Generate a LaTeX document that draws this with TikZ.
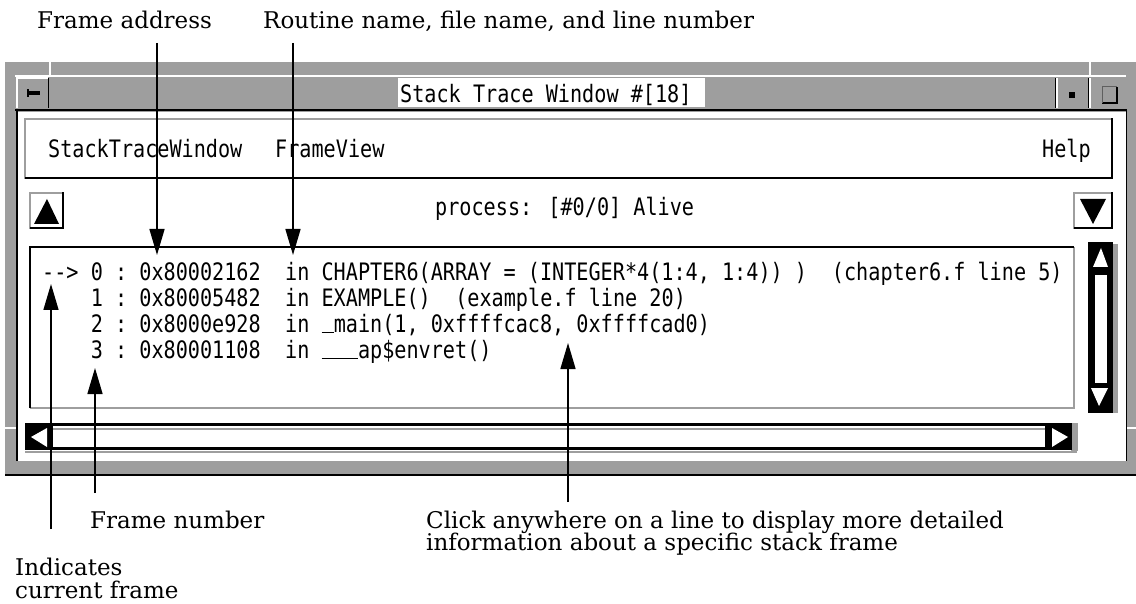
\documentclass[tikz,border=0pt]{standalone}
\usepackage{fontspec}
\usetikzlibrary{arrows.meta}
\newfontfamily\xfont[FakeStretch=0.84]{DejaVu Sans Mono}
\newfontfamily\notefont{DejaVu Serif}
\definecolor{stip}{gray}{0.62}
% underscore sitting on the baseline, one character cell wide
\newcommand{\us}{\makebox[\fontcharwd\font"5F][l]{\rule{\fontcharwd\font"5F}{1.5pt}}}

\begin{document}
\begin{tikzpicture}[x=1pt,y=-1pt,
  xtext/.style={font={\xfont\fontsize{24}{24}\selectfont}, inner sep=0pt, anchor=base west},
  note/.style={font={\notefont\fontsize{23}{23}\selectfont}, inner sep=0pt, anchor=base west},
  pointer/.style={line width=1.5pt, -{Triangle[length=26pt,width=15pt]}},
  raisedtop/.style={stip, line width=2pt},
  shadow/.style={black, line width=2.5pt},
  hole/.style={white, line width=1.4pt}]
\useasboundingbox (0,0) rectangle (1136,604);

% ---------- window frame ----------
\fill[stip] (5,62) rectangle (1136,474);
\draw[line width=2.5pt] (5,475) -- (1136,475);
\fill[white] (17,112) rectangle (1126,461);
\draw[line width=1.5pt] (17,461) -- (17,111) (1126.5,111) -- (1126.5,461);
% resize-corner notches in the border
\draw[hole] (50,62) -- (50,76) (1090,62) -- (1090,76)
  (5,428) -- (16,428) (1127,428) -- (1136,428);

% ---------- title bar ----------
\fill[stip] (15,77) rectangle (1126,108);
\draw[hole] (15,76) -- (1126,76);
\draw[hole] (17,108) -- (17,78) -- (48,78);
\draw[line width=1.4pt] (48.5,78) -- (48.5,108);
\fill[black] (27,91) rectangle (40,95);
\fill[black] (27,89) rectangle (29,97);
\fill[white] (398,78) rectangle (705,107);
\node[xtext] (title) at (400,103) {Stack Trace Window \#[18]};
\draw[hole] (1057,78) -- (1057,108) (1090,78) -- (1090,108);
\draw[line width=1.2pt] (1055.5,78) -- (1055.5,108) (1088.5,78) -- (1088.5,108);
\fill[black] (1069,92) rectangle (1075,98);
\draw[line width=1.5pt] (1102,103) -- (1117,103) -- (1117,87);
\draw[line width=1pt, stip!60!black] (1102,103) -- (1102,87) -- (1117,87);
\draw[line width=2.5pt] (15,110) -- (1127,110);

% ---------- menu bar ----------
\draw[raisedtop] (25,179) -- (25,119) -- (1112,119);
\draw[shadow] (25,178) -- (1112,178) -- (1112,118);
\node[xtext] (mStack) at (48,158) {StackTraceWindow};
\node[xtext] (mFrame) at (275,158) {FrameView};
\node[xtext] (mHelp) at (1042,158) {Help};

% ---------- process line with its buttons ----------
\draw[raisedtop] (30,229) -- (30,193) -- (63,193);
\draw[shadow] (30,228) -- (63,228) -- (63,192);
\fill[black] (47,199) -- (34,224) -- (59,224) -- cycle;
\draw[raisedtop] (1074,229) -- (1074,193) -- (1112,193);
\draw[shadow] (1074,228) -- (1112,228) -- (1112,192);
\fill[black] (1093,224) -- (1080,199) -- (1106,199) -- cycle;
\node[xtext] (proc) at (435,216) {process: [\#0/0] Alive};

% ---------- stack list ----------
\draw[stip, line width=2pt] (30,408) -- (1074,408) -- (1074,247);
\draw[line width=2.5pt] (30,408) -- (30,247) -- (1074,247);
\node[xtext] (r0a) at (42,281) {-{}->};
\node[xtext] (r0b) at ({42+4*12.15},281) {0};
\node[xtext] (r0c) at ({42+6*12.15},281) {:};
\node[xtext] (r0d) at ({42+8*12.15},281) {0x80002162};
\node[xtext] (r0e) at ({42+20*12.15},281) {in CHAPTER6(ARRAY = (INTEGER*4(1:4, 1:4)) )};
\node[xtext] (r0f) at ({42+65*12.15},281) {(chapter6.f line 5)};
\node[xtext] (r1b) at ({42+4*12.15},307) {1};
\node[xtext] (r1c) at ({42+6*12.15},307) {:};
\node[xtext] (r1d) at ({42+8*12.15},307) {0x80005482};
\node[xtext] (r1e) at ({42+20*12.15},307) {in EXAMPLE()};
\node[xtext] (r1f) at ({42+34*12.15},307) {(example.f line 20)};
\node[xtext] (r2b) at ({42+4*12.15},333) {2};
\node[xtext] (r2c) at ({42+6*12.15},333) {:};
\node[xtext] (r2d) at ({42+8*12.15},333) {0x8000e928};
\node[xtext] (r2e) at ({42+20*12.15},333) {in \us main(1, 0xffffcac8, 0xffffcad0)};
\node[xtext] (r3b) at ({42+4*12.15},359) {3};
\node[xtext] (r3c) at ({42+6*12.15},359) {:};
\node[xtext] (r3d) at ({42+8*12.15},359) {0x80001108};
\node[xtext] (r3e) at ({42+20*12.15},359) {in \us\us\us ap\$envret()};

% ---------- vertical scrollbar ----------
\fill[stip] (1112,244) rectangle (1118,413);
\fill[black] (1088,242) rectangle (1113,413);
\fill[white] (1095,275) rectangle (1107,383);
\fill[white] (1101,248) -- (1093,267) -- (1108,267) -- cycle;
\fill[white] (1099,406) -- (1091,388) -- (1108,388) -- cycle;

% ---------- horizontal scrollbar ----------
\draw[stip, line width=2pt] (25,429) -- (1077,429) (25,452) -- (1077,452);
\draw[line width=3pt] (25,424.5) -- (1077,424.5) (25,448) -- (1077,448);
\fill[black] (25,423) rectangle (53,450);
\fill[white] (31,437) -- (47,428) -- (47,447) -- cycle;
\fill[stip] (1071,423) rectangle (1078,451);
\fill[black] (1045,423) rectangle (1072,450);
\fill[white] (1068,437) -- (1052,428) -- (1052,447) -- cycle;

% ---------- call-outs ----------
\node[note] (lAddr) at (37,29) {Frame address};
\node[note] (lRout) at (263,29) {Routine name, file name, and line number};
\node[note] (lNum) at (90,528) {Frame number};
\node[note] (lCur1) at (15,575) {Indicates};
\node[note] (lCur2) at (15,598) {current frame};
\node[note] (lClick1) at (426,528) {Click anywhere on a line to display more detailed};
\node[note] (lClick2) at (426,550) {information about a specific stack frame};

\coordinate (addrTail) at (157,43);
\coordinate (addrTip) at (157,255);
\coordinate (routTail) at (293,43);
\coordinate (routTip) at (293,255);
\coordinate (curTail) at (51,529);
\coordinate (curTip) at (51,284);
\coordinate (numTail) at (95,493);
\coordinate (numTip) at (95,368);
\coordinate (clickTail) at (568,502);
\coordinate (clickTip) at (568,343);
\draw[pointer] (addrTail) -- (addrTip);
\draw[pointer] (routTail) -- (routTip);
\draw[pointer] (curTail) -- (curTip);
\draw[pointer] (numTail) -- (numTip);
\draw[pointer] (clickTail) -- (clickTip);
\end{tikzpicture}
\end{document}
